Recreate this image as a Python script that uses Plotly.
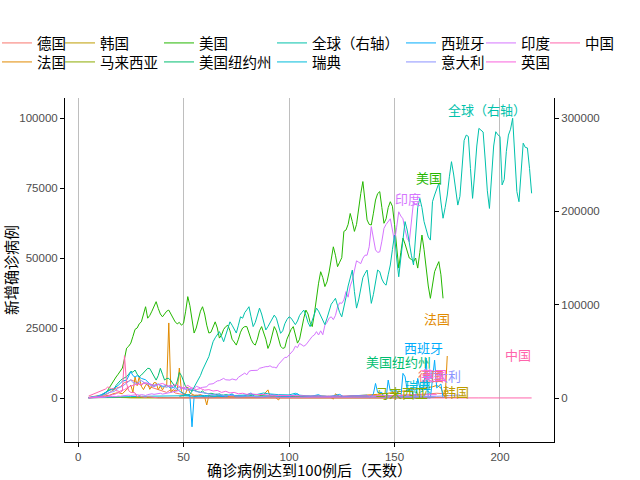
import plotly.graph_objects as go

# ---------------- data ----------------
# daily series: (start day, values)
us_start = 5
us_values = [100, 150, 200, 300, 400, 600, 800, 1200, 1800, 2700, 4000, 5000, 6300, 7500, 8500, 9500,
             10700, 14000, 17800, 18500, 19600, 22000, 24500, 25000, 26500, 27200, 30000, 32600, 28500,
             29500, 31000, 33000, 34400, 32000, 30000, 29000, 30000, 31000, 31400, 30000, 28500, 27200,
             26500, 27000, 26000, 26700, 31000, 36200, 33000, 28000, 23200, 25000, 28000, 31000, 32600,
             30000, 26000, 23200, 23500, 25500, 27200, 25000, 21400, 22500, 24500, 25500, 26000, 24000,
             21000, 20000, 18900, 21000, 23500, 25000, 25500, 25500, 23000, 21000, 19500, 18900, 21000,
             24000, 25500, 23500, 21000, 17700, 19500, 22500, 25500, 24000, 21000, 18500, 17700, 18000,
             21000, 23000, 24500, 25500, 22000, 19600, 21000, 25000, 28500, 31400, 30000, 27000, 25500,
             30000, 36000, 41000, 45100, 43000, 39800, 41500, 45000, 50000, 54000, 51000, 46900, 48500,
             50100, 59500, 60000, 62000, 65900, 63000, 59500, 62000, 68000, 73000, 77300, 70000, 63600,
             62000, 61800, 66000, 70700, 73000, 73700, 68000, 62400, 64000, 68000, 70100, 68500, 62000,
             55000, 46400, 52000, 57100, 55000, 52000, 50000, 49500, 48700, 50000, 46400, 52000, 58200,
             53000, 46400, 40000, 35600, 40000, 45100, 47000, 48700, 44000, 35600]

global_start = 48
global_values = [1800, 2100, 2400, 2700, 3000, 3900, 7500, 11400, 15600, 19500, 24000, 30000, 34500, 40500,
                 44400, 52500, 60300, 64500, 67500, 71100, 66000, 60300, 67500, 75000, 81600, 78000, 72900,
                 69600, 78000, 87000, 85500, 91500, 94500, 97800, 87000, 76500, 81000, 88500, 96300, 90000,
                 81000, 72900, 76500, 81000, 85500, 88800, 85500, 78000, 69300, 72000, 79500, 84000, 87000,
                 85500, 82500, 78600, 82500, 88500, 91500, 94200, 88500, 81000, 76500, 84000, 91500, 96300,
                 93000, 88500, 82500, 78600, 85500, 93000, 100500, 103500, 106800, 99000, 91500, 87000,
                 96000, 108000, 120000, 129000, 137100, 114000, 96300, 105000, 117000, 129000, 133500,
                 137100, 120000, 101400, 111000, 123000, 137100, 135300, 127500, 123000, 120900, 132000,
                 142500, 159000, 174600, 150000, 129900, 150000, 171000, 189000, 180000, 163800, 153000,
                 142500, 174000, 204000, 213900, 204000, 189000, 180000, 172500, 169200, 210300, 217500,
                 223500, 230100, 210000, 192600, 204000, 217500, 237000, 253200, 240000, 222000, 206700,
                 216000, 252000, 276000, 281700, 280200, 246000, 213900, 240000, 270000, 288900, 287100,
                 285000, 255000, 222000, 203100, 240000, 270000, 285300, 282000, 280200, 228300, 234000,
                 264000, 281700, 288000, 299700, 264000, 221100, 210300, 240000, 273000, 268500, 267900,
                 246000, 219300]

india_start = 5
india_values = [10, 20, 50, 70, 80, 70, 100, 200, 300, 500, 400, 500, 600, 500, 700, 600, 800, 900, 800,
                1000, 900, 1000, 1100, 1200, 1000, 1200, 1100, 900, 1200, 1300, 1500, 1300, 1500, 1600,
                1700, 1400, 1500, 1800, 1900, 2000, 2200, 2400, 2600, 2700, 3900, 3000, 3500, 3400, 3300,
                3600, 3300, 4200, 4000, 3600, 3800, 3900, 4000, 4900, 5000, 5100, 5600, 6100, 6200, 6600,
                7000, 6500, 6500, 6400, 6800, 6600, 6400, 7400, 7900, 8200, 8900, 8300, 9500, 9800, 9900,
                9800, 9900, 10600, 10900, 11000, 11200, 11200, 11500, 11000, 11000, 10700, 12000, 12800,
                13500, 14500, 14500, 15400, 16000, 17000, 18500, 18000, 19500, 19000, 18500, 19000, 20000,
                21000, 22000, 22500, 23700, 22500, 24000, 22600, 26000, 27000, 28500, 29000, 28000, 29500,
                32500, 34000, 33800, 35000, 38000, 36000, 40000, 42100, 45700, 49000, 48500, 48000, 49900,
                51000, 51000, 54000, 61200, 57000, 52900, 52000, 52200, 56000, 60600, 62000, 63000, 64000,
                60000, 55800, 61000, 66500, 65000, 64000, 60000, 57000, 55800, 64000, 70100, 69000]

ny_start = 5
ny_values = [50, 100, 150, 300, 500, 800, 1000, 1500, 2000, 2500, 3000, 3000, 2900, 4500, 5500, 6200, 6800,
             7200, 7600, 8500, 9500, 9200, 10000, 8500, 7600, 8200, 8900, 9800, 10600, 10500, 9100, 7500,
             6400, 8000, 10600, 8500, 6400, 7000, 7000, 6200, 5000, 4000, 6000, 9100, 8000, 5900, 4000,
             3500, 3000, 2500, 2800, 2400, 2200, 2000, 2500, 1800, 1600, 1500, 1700, 1400, 1300, 1200,
             1500, 1100, 1000, 1200, 1000, 900, 1100, 800, 900, 800, 700, 800, 650, 600, 750, 900, 700,
             650, 600, 700, 800, 750, 600, 550, 650, 700, 800, 600, 550, 500, 650, 700, 750, 600, 500,
             550, 600, 700, 650, 550, 500, 600, 700, 800, 650, 600, 550, 700, 750, 800, 700, 600, 650,
             700, 750, 800, 900, 700, 600, 650, 700, 800, 750, 700, 650, 600, 700, 750, 700, 650, 600,
             700, 800, 750, 650, 600, 700, 700, 650, 600, 700, 750, 800, 700, 650, 600, 700, 750, 700,
             650, 600, 700, 800, 700, 650, 600, 700]

# sparse series: (day, value) pairs
germany = [(5, 100), (8, 200), (10, 400), (12, 1000), (14, 1500), (16, 2500), (18, 3500), (20, 4000),
           (22, 5500), (24, 6000), (25, 6500), (26, 6200), (28, 5500), (30, 4500), (31, 5500), (32, 5000),
           (34, 4000), (36, 3500), (38, 3000), (40, 2500), (42, 2000), (44, 3000), (46, 1800), (48, 1500),
           (50, 1200), (52, 1000), (55, 800), (58, 1200), (60, 700), (65, 600), (70, 500), (75, 400),
           (80, 400), (85, 300), (90, 500), (95, 400), (100, 400), (105, 600), (110, 500), (115, 400),
           (120, 400), (125, 500), (130, 500), (135, 700), (140, 800), (145, 700), (150, 900), (155, 1000),
           (160, 1200), (165, 1400), (170, 1700), (174, 1500)]

france = [(5, 30), (7, 100), (9, 200), (11, 400), (13, 800), (15, 1000), (17, 1600), (19, 1900), (21, 1500),
          (22, 2400), (23, 2900), (24, 3800), (25, 4600), (26, 2000), (27, 7500), (28, 4400), (29, 7600),
          (30, 4200), (31, 3000), (32, 4500), (33, 5200), (34, 3100), (35, 4200), (36, 5500), (37, 5400),
          (38, 3000), (39, 4300), (40, 2900), (41, 4200), (42, 4300), (43, 26800), (44, 1900), (45, 3000),
          (46, 2600), (47, 2700), (48, 10700), (49, 2400), (50, 1400), (51, 1600), (52, 3900), (53, 1800),
          (54, 1500), (55, 1000), (56, 1000), (57, 800), (58, 1000), (59, 700), (60, 400), (61, -2500),
          (62, 1000), (63, 500), (65, 600), (68, 400), (70, 800), (72, 300), (75, 500), (78, 400),
          (80, 700), (83, 300), (85, 500), (88, 1200), (90, 2900), (91, 500), (93, 600), (95, -700),
          (96, 400), (100, 500), (103, 300), (106, 600), (110, 500), (113, 800), (116, 400), (119, 600),
          (121, -400), (122, 1500), (124, 500), (127, 600), (130, 700), (133, 800), (136, 900), (139, 1000),
          (142, 1300), (145, 1500), (148, 1800), (150, 2000), (153, 2300), (155, 2500), (158, 2800),
          (160, 3000), (163, 3300), (165, 3500), (168, 4000), (170, 4500), (172, 3600), (174, 0), (175, 15000)]

korea = [(5, 200), (7, 500), (9, 800), (10, 900), (11, 600), (13, 500), (15, 400), (17, 250), (20, 100),
         (25, 100), (30, 80), (40, 50), (50, 10), (60, 30), (70, 40), (80, 50), (90, 40), (100, 50),
         (110, 50), (120, 60), (130, 40), (140, 40), (150, 30), (160, 40), (170, 40), (175, 100),
         (178, 200), (180, 300), (182, 400), (184, 330)]

malaysia = [(5, 100), (8, 150), (10, 200), (12, 150), (15, 200), (18, 150), (20, 170), (25, 100), (30, 100),
            (35, 50), (40, 80), (45, 50), (50, 40), (60, 30), (70, 50), (80, 100), (85, 270), (90, 30),
            (100, 20), (110, 10), (120, 10), (130, 15), (140, 10), (150, 20), (155, 30), (160, 25)]

sweden = [(5, 50), (10, 100), (15, 300), (20, 400), (25, 500), (30, 600), (35, 700), (40, 600), (45, 700),
          (50, 800), (55, 600), (60, 900), (65, 700), (70, 1000), (75, 900), (80, 1100), (85, 1300),
          (88, 1800), (90, 1500), (95, 1200), (100, 1100), (103, 1700), (105, 1000), (110, 700),
          (115, 600), (120, 400), (125, 300), (130, 300), (135, 200), (140, 300), (145, 200), (150, 300),
          (155, 250), (160, 300), (165, 200), (169, 300)]

spain = [(5, 100), (7, 300), (9, 600), (11, 1200), (13, 2000), (15, 2500), (17, 3500), (19, 4500), (21, 6000),
         (23, 6400), (24, 8200), (25, 9400), (26, 8000), (27, 7500), (28, 8000), (30, 7000), (32, 6500),
         (34, 5000), (36, 4500), (38, 5000), (40, 4000), (42, 4500), (44, 3500), (46, 4000), (48, 2500),
         (50, 1500), (52, 1000), (53, 800), (54, -10300), (55, 500), (57, 400), (60, 500), (63, 300),
         (66, 700), (70, 400), (73, 1500), (75, 300), (78, 500), (82, 1800), (84, 300), (88, 400),
         (92, 1200), (95, 300), (100, 500), (104, 1500), (106, 300), (110, 500), (114, 1200), (116, 300),
         (120, 600), (124, 1300), (126, 400), (130, 800), (133, 1000), (135, 1000), (137, 1000), (138, 0),
         (140, 1500), (141, 5200), (142, 2000), (144, 2000), (145, 0), (146, 0), (147, 6400), (148, 2500),
         (150, 2500), (151, 2800), (152, 0), (153, 0), (154, 8800), (155, 7600), (156, 3000), (158, 3600),
         (159, 0), (160, 0), (161, 7000), (162, 3500), (164, 4000), (165, 14300), (166, 0), (167, 0),
         (168, 6000), (169, 13500), (170, 3600), (172, 5000), (173, 0)]

italy = [(5, 200), (7, 500), (9, 600), (11, 800), (13, 1500), (15, 2000), (17, 2300), (19, 3500), (21, 4200),
         (23, 5300), (25, 6500), (26, 5500), (28, 5200), (30, 6200), (32, 5200), (34, 4700), (36, 4000),
         (38, 4800), (40, 4200), (42, 3800), (44, 4700), (46, 3100), (48, 3800), (50, 3500), (52, 2700),
         (54, 3000), (56, 2300), (58, 2000), (60, 1900), (62, 1400), (64, 1200), (66, 1500), (68, 1000),
         (70, 800), (72, 900), (75, 700), (78, 600), (81, 500), (84, 400), (87, 300), (90, 400), (95, 300),
         (100, 250), (105, 200), (110, 200), (115, 250), (120, 200), (125, 250), (130, 250), (135, 300),
         (140, 200), (145, 300), (150, 350), (155, 300), (160, 400), (165, 500), (170, 600), (175, 800),
         (178, 900), (181, 1100)]

uk = [(5, 50), (8, 150), (10, 300), (12, 500), (14, 700), (16, 1000), (18, 1500), (20, 2500), (22, 3000),
      (24, 4000), (26, 4500), (28, 5000), (30, 4800), (32, 5500), (34, 5000), (36, 4500), (38, 4800),
      (40, 5200), (42, 4500), (44, 4000), (46, 4800), (48, 4000), (50, 3500), (52, 4500), (54, 3500),
      (56, 3000), (58, 3400), (60, 2800), (62, 3000), (64, 2500), (66, 2700), (68, 2000), (70, 2400),
      (72, 1800), (74, 2000), (76, 1500), (78, 1700), (80, 1300), (82, 1500), (85, 1200), (88, 1300),
      (90, 1000), (95, 1000), (100, 800), (105, 800), (110, 700), (115, 600), (120, 650), (125, 700),
      (130, 700), (135, 750), (140, 800), (145, 900), (150, 800), (155, 1000), (160, 1100), (165, 1000),
      (170, 1200)]

china = [(5, 700), (6, 1000), (7, 1300), (8, 1700), (9, 2000), (10, 2100), (11, 2600), (12, 2800), (13, 3200),
         (14, 3900), (15, 3700), (16, 3200), (17, 3400), (18, 2600), (19, 2500), (20, 2000), (21, 2500),
         (22, 15100), (23, 5100), (24, 2600), (25, 2000), (26, 2000), (27, 1800), (28, 400), (29, 900),
         (30, 500), (31, 400), (32, 200), (33, 500), (34, 400), (35, 200), (36, 100), (38, 50), (40, 30),
         (45, 40), (50, 20), (55, 40), (60, 80), (65, 60), (70, 100), (75, 40), (80, 90), (85, 20),
         (90, 10), (100, 10), (110, 5), (120, 10), (130, 20), (140, 30), (150, 40), (160, 20), (170, 100),
         (180, 80), (185, 20), (190, 30), (200, 20), (210, 20), (215, 20)]

x_ticks = [0, 50, 100, 150, 200]
y_left_ticks = [0, 25000, 50000, 75000, 100000]
y_right_ticks = [0, 100000, 200000, 300000]

# ---------------- styling ----------------
colors = {
    "德国": "#F8766D", "法国": "#E18A00", "韩国": "#BE9C00", "马来西亚": "#8CAB00",
    "美国": "#24B700", "美国纽约州": "#00BE70", "全球（右轴）": "#00C1AB", "瑞典": "#00BBDA",
    "西班牙": "#00ACFC", "意大利": "#8B93FF", "印度": "#D575FE", "英国": "#F962DD", "中国": "#FF65AC",
}


def daily(start, vals):
    return list(range(start, start + len(vals))), vals


def pairs(p):
    return [a for a, _ in p], [b for _, b in p]


# name, data, legend column, legend row, axis
series = [
    ("德国", pairs(germany), 0, 0, "y"),
    ("法国", pairs(france), 0, 1, "y"),
    ("韩国", pairs(korea), 1, 0, "y"),
    ("马来西亚", pairs(malaysia), 1, 1, "y"),
    ("美国", daily(us_start, us_values), 2, 0, "y"),
    ("美国纽约州", daily(ny_start, ny_values), 2, 1, "y"),
    ("全球（右轴）", daily(global_start, global_values), 3, 0, "y2"),
    ("瑞典", pairs(sweden), 3, 1, "y"),
    ("西班牙", pairs(spain), 4, 0, "y"),
    ("意大利", pairs(italy), 4, 1, "y"),
    ("印度", daily(india_start, india_values), 5, 0, "y"),
    ("英国", pairs(uk), 5, 1, "y"),
    ("中国", pairs(china), 6, 0, "y"),
]

FONT = "Liberation Sans, Noto Sans CJK SC, sans-serif"
CJK = "Noto Sans CJK SC, sans-serif"

L, T, PW, PH = 65, 98, 489, 344
legend_text_px = [37, 100, 199, 312, 441, 521, 585]
legend_row_px = [43, 62]

fig = go.Figure()
legends = {}
for i, (name, (xs, ys), col, row, ax) in enumerate(series):
    key = "legend" if i == 0 else f"legend{i + 1}"
    fig.add_trace(go.Scatter(
        x=xs, y=ys, mode="lines", name=name,
        line=dict(color=colors[name], width=1),
        legend=key, yaxis=ax, hoverinfo="skip",
    ))
    legends[key] = dict(
        x=(legend_text_px[col] - 40 - L) / PW, y=(T + PH - legend_row_px[row]) / PH,
        xanchor="left", yanchor="middle", orientation="v", bgcolor="rgba(0,0,0,0)",
        borderwidth=0, font=dict(size=14.5, family=CJK, color="black"),
        itemclick=False, itemdoubleclick=False,
    )

# text labels (positions in day / left-axis units)
label_pos = {
    "全球（右轴）": (193.8, 103200), "美国": (166.3, 78900), "印度": (156.3, 71400),
    "法国": (170.1, 28400), "西班牙": (163.5, 17900), "美国纽约州": (152.0, 12900),
    "中国": (208.6, 15700), "意大利": (172.3, 8200), "德国": (167.2, 7900), "英国": (168.6, 8500),
    "瑞典": (161.0, 4300), "马来西亚": (153.6, 2100), "韩国": (179.0, 2500),
}
annotations = []
for name, (lx, ly) in label_pos.items():
    annotations.append(dict(x=lx, y=ly, xref="x", yref="y", text=name, showarrow=False,
                            font=dict(color=colors[name], size=13, family=CJK)))

fig.update_layout(
    width=640, height=480,
    margin=dict(l=L, r=640 - L - PW, t=T, b=480 - T - PH, autoexpand=False),
    paper_bgcolor="white", plot_bgcolor="white",
    showlegend=True,
    annotations=annotations,
    xaxis=dict(
        range=[-6.2, 225.6], tickvals=x_ticks, showgrid=True, gridcolor="#BEBEBE", gridwidth=1,
        zeroline=False, showline=True, linecolor="black", linewidth=1, ticks="outside", ticklen=4,
        tickcolor="black", tickfont=dict(size=11.5, color="#4D4D4D", family=FONT),
        title=dict(text="确诊病例达到100例后（天数）", font=dict(size=15, color="black", family=CJK), standoff=4),
    ),
    yaxis=dict(
        range=[-15714, 107143], tickvals=y_left_ticks, tickformat="d", showgrid=False, zeroline=False,
        showline=True, linecolor="black", linewidth=1, ticks="outside", ticklen=4, tickcolor="black",
        tickfont=dict(size=11.5, color="#4D4D4D", family=FONT),
        title=dict(text="新增确诊病例", font=dict(size=15, color="black", family=CJK), standoff=4),
    ),
    yaxis2=dict(
        range=[-47142, 321429], tickvals=y_right_ticks, tickformat="d", overlaying="y", side="right",
        showgrid=False, zeroline=False, showline=True, linecolor="black", linewidth=1, ticks="outside",
        ticklen=4, tickcolor="black", tickfont=dict(size=11.5, color="#4D4D4D", family=FONT),
    ),
    **legends,
)

fig.write_html(
    "out.html",
    config={"displayModeBar": False},
    post_script="document.body.style.margin='0';document.body.style.padding='0';",
)
